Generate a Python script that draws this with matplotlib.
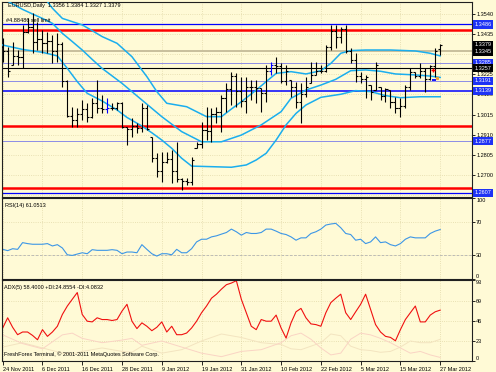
import matplotlib
matplotlib.use("Agg")
import matplotlib.pyplot as plt

plt.rcParams['font.family'] = ['Liberation Sans', 'DejaVu Sans']

# ---- daily bars, 24 Nov 2011 .. 27 Mar 2012 (index 0..88) ----
highs = [1.3413, 1.3369, 1.3396, 1.3352, 1.3480, 1.3517, 1.3543, 1.3496, 1.3456, 1.3448,
         1.3430, 1.3439, 1.3396, 1.3195, 1.3056, 1.3048, 1.3091, 1.3074, 1.3100, 1.3195,
         1.3117, 1.3100, 1.3074, 1.3082, 1.3082, 1.2952, 1.2995, 1.2969, 1.3074, 1.3065,
         1.2900, 1.2813, 1.2821, 1.2821, 1.2830, 1.2873, 1.2682, 1.2682, 1.2795, 1.2873,
         1.2978, 1.3056, 1.3048, 1.3056, 1.3117, 1.3178, 1.3239, 1.3230, 1.3213, 1.3213,
         1.3195, 1.3195, 1.3152, 1.3274, 1.3291, 1.3317, 1.3282, 1.3274, 1.3195, 1.3187,
         1.3178, 1.3213, 1.3291, 1.3291, 1.3274, 1.3378, 1.3483, 1.3483, 1.3474, 1.3483,
         1.3361, 1.3335, 1.3239, 1.3222, 1.3169, 1.3291, 1.3161, 1.3152, 1.3143, 1.3108,
         1.3100, 1.3169, 1.3256, 1.3239, 1.3282, 1.3256, 1.3274, 1.3361, 1.3384]
lows = [1.3291, 1.3209, 1.3274, 1.3274, 1.3256, 1.3439, 1.3335, 1.3352, 1.3335, 1.3335,
        1.3282, 1.3291, 1.3161, 1.3004, 1.2952, 1.2952, 1.2987, 1.2978, 1.2995, 1.3021,
        1.3021, 1.3021, 1.3039, 1.3039, 1.2943, 1.2856, 1.2900, 1.2917, 1.2926, 1.2934,
        1.2769, 1.2691, 1.2665, 1.2760, 1.2656, 1.2665, 1.2621, 1.2647, 1.2647, 1.2839,
        1.2839, 1.2882, 1.2873, 1.2969, 1.2926, 1.3030, 1.3065, 1.3056, 1.3056, 1.3021,
        1.3091, 1.3074, 1.3030, 1.3082, 1.3222, 1.3230, 1.3178, 1.3169, 1.3108, 1.3048,
        1.2969, 1.3108, 1.3178, 1.3222, 1.3230, 1.3239, 1.3352, 1.3361, 1.3387, 1.3335,
        1.3282, 1.3187, 1.3178, 1.3100, 1.3091, 1.3143, 1.3091, 1.3082, 1.3048, 1.3021,
        1.3000, 1.3048, 1.3143, 1.3204, 1.3204, 1.3135, 1.3196, 1.3213, 1.3327]
closes = [1.3345, 1.3240, 1.3320, 1.3315, 1.3445, 1.3470, 1.3395, 1.3410, 1.3390, 1.3400,
          1.3345, 1.3385, 1.3190, 1.3010, 1.2985, 1.3020, 1.3045, 1.3000, 1.3075, 1.3050,
          1.3045, 1.3048, 1.3050, 1.3075, 1.2950, 1.2940, 1.2955, 1.2945, 1.3050, 1.2940,
          1.2790, 1.2720, 1.2765, 1.2785, 1.2720, 1.2680, 1.2670, 1.2665, 1.2780, 1.2860,
          1.2935, 1.2930, 1.3020, 1.3030, 1.3100, 1.3150, 1.3215, 1.3140, 1.3085, 1.3160,
          1.3160, 1.3155, 1.3130, 1.3240, 1.3275, 1.3270, 1.3190, 1.3245, 1.3160, 1.3080,
          1.3120, 1.3160, 1.3220, 1.3240, 1.3240, 1.3370, 1.3450, 1.3420, 1.3460, 1.3345,
          1.3300, 1.3215, 1.3200, 1.3210, 1.3135, 1.3275, 1.3110, 1.3150, 1.3080, 1.3050,
          1.3060, 1.3160, 1.3235, 1.3215, 1.3240, 1.3200, 1.3270, 1.3345, 1.3379]
first_open = 1.3370
last_open = 1.3356
blue_bars = [21, 54]

# ---- bands (read at selected bars) ----
upper_idx = [8, 10, 12, 14, 16, 18, 20, 23, 26, 29, 31, 33, 37, 41, 44, 46, 48, 51, 53, 55,
             58, 61, 64, 66, 68, 70, 73, 78, 83, 86, 88]
upper_val = [1.3639, 1.3570, 1.3517, 1.3500, 1.3483, 1.3453, 1.3422, 1.3387, 1.3317, 1.3213,
             1.3135, 1.3074, 1.3056, 1.3004, 1.3004, 1.3044, 1.3082, 1.3143, 1.3187, 1.3230,
             1.3239, 1.3227, 1.3244, 1.3282, 1.3335, 1.3349, 1.3352, 1.3352, 1.3347, 1.3335, 1.3321]
mid_idx = [0, 2, 4, 6, 8, 10, 12, 14, 16, 18, 20, 24, 28, 32, 36, 40, 44, 48, 52, 56,
           58, 61, 64, 67, 70, 73, 76, 79, 83, 86, 88]
mid_val = [1.3622, 1.3592, 1.3564, 1.3540, 1.3517, 1.3491, 1.3439, 1.3396, 1.3352, 1.3303,
           1.3256, 1.3178, 1.3091, 1.3004, 1.2926, 1.2873, 1.2873, 1.2908, 1.2961, 1.3030,
           1.3100, 1.3143, 1.3169, 1.3199, 1.3244, 1.3248, 1.3241, 1.3227, 1.3222, 1.3216, 1.3209]
lower_idx = [0, 4, 8, 11, 13, 15, 17, 20, 23, 25, 28, 30, 32, 34, 36, 38, 42, 46, 49, 51,
             53, 55, 57, 59, 61, 64, 68, 71, 74, 77, 80, 84, 88]
lower_val = [1.3378, 1.3355, 1.3340, 1.3321, 1.3256, 1.3187, 1.3126, 1.3086, 1.3039, 1.3000,
             1.2955, 1.2920, 1.2882, 1.2839, 1.2787, 1.2746, 1.2743, 1.2740, 1.2752, 1.2778,
             1.2813, 1.2882, 1.2961, 1.3021, 1.3065, 1.3105, 1.3121, 1.3140, 1.3135, 1.3114,
             1.3103, 1.3108, 1.3108]

# ---- horizontal levels drawn on the chart ----
level_prices = [1.3486, 1.3458, 1.3345, 1.3285, 1.3257, 1.3191, 1.3139, 1.2953, 1.2877, 1.2630, 1.2607]
level_colors = ['#0000FF', '#FF0000', '#C8BF9C', '#8C8CE6', '#000000', '#8C8CE6', '#0000FF',
                '#FF0000', '#8C8CE6', '#FF0000', '#0000FF']
level_widths = [0.9, 1.8, 1.4, 0.7, 0.8, 0.7, 1.1, 1.8, 0.7, 1.8, 0.9]
box_prices = [1.3486, 1.3379, 1.3345, 1.3285, 1.3257, 1.3191, 1.3139, 1.2877, 1.2607]
box_colors = ['#1E32F5', 'black', 'black', '#1E32F5', 'black', '#1E32F5', '#1E32F5', '#1E32F5', '#1E32F5']
price_ticks = [1.3540, 1.3435, 1.3330, 1.3225, 1.3120, 1.3015, 1.2910, 1.2805, 1.2700, 1.2595]
hidden_ticks = [1.3330, 1.2595]   # covered by the price boxes

# trade markers near the last bars
buy_mark = (86.6, 1.3248)
sell_mark = (86.8, 1.3195)
tp_mark = (87.3, 1.3207)

# ---- RSI(14) ----
rsi = [36.6, 35.0, 37.4, 36.6, 44.9, 43.7, 42.9, 42.9, 42.9, 43.7, 40.8, 42.4, 38.3, 29.9, 29.1,
       30.8, 32.4, 31.2, 36.2, 35.4, 35.4, 35.4, 36.2, 35.4, 31.2, 33.3, 33.3, 32.4, 42.4, 36.6,
       31.2, 28.3, 31.2, 31.2, 29.9, 36.6, 32.4, 32.4, 37.4, 45.8, 49.1, 49.1, 52.0, 53.3, 55.4,
       57.4, 61.6, 58.3, 54.1, 57.4, 56.2, 56.2, 57.4, 61.6, 61.6, 59.1, 56.2, 54.9, 52.0, 47.9,
       50.8, 50.8, 56.2, 58.3, 61.6, 66.6, 67.9, 68.7, 63.3, 56.2, 54.9, 47.9, 49.1, 43.7, 45.8,
       52.0, 44.9, 45.8, 42.4, 40.8, 43.7, 49.1, 52.0, 50.8, 50.8, 50.8, 56.2, 59.1, 61.05]

# ---- ADX(5) ----
adx = [37.9, 49.6, 38.7, 30.2, 33.3, 33.3, 29.4, 24.4, 36.0, 28.3, 33.3, 39.9, 53.4, 63.1, 70.9,
       78.6, 53.4, 45.7, 44.9, 49.6, 47.6, 47.6, 46.5, 47.6, 57.3, 65.1, 45.7, 37.2, 43.8, 39.9,
       34.8, 38.7, 44.9, 33.3, 39.9, 30.2, 30.2, 32.1, 37.9, 45.7, 55.4, 63.1, 72.1, 76.7, 82.5,
       87.6, 89.5, 92.2, 70.9, 55.4, 39.9, 36.0, 47.6, 45.7, 45.7, 52.7, 37.9, 26.3, 43.8, 56.5,
       60.4, 49.6, 42.6, 41.8, 39.9, 55.4, 67.0, 72.1, 76.7, 55.4, 47.6, 56.5, 65.1, 76.7, 59.3,
       41.8, 33.3, 28.3, 27.1, 23.2, 36.0, 47.6, 55.4, 63.1, 44.9, 44.9, 52.7, 56.5, 58.4]
di_idx = [0, 4, 8, 12, 14, 16, 20, 24, 26, 28, 32, 36, 40, 44, 48, 52, 56, 58, 60, 62, 64, 66,
          68, 70, 72, 74, 76, 78, 80, 82, 84, 86, 88]
di_minus = [30, 20, 14, 30, 32, 26, 21, 24, 26, 18, 23, 16, 9, 5, 11, 13, 21, 29, 32, 25, 15, 7,
            9, 25, 32, 30, 26, 21, 15, 9, 11, 7, 4.1]
di_plus = [16, 21, 15, 9, 8, 11, 15, 11, 10, 17, 9, 13, 23, 31, 27, 21, 19, 14, 13, 17, 21, 31,
           29, 17, 13, 12, 10, 11, 16, 23, 21, 21, 24.9]

date_idx = [0, 8, 16, 24, 32, 40, 48, 56, 64, 72, 80, 88]
date_labels = ['24 Nov 2011', '6 Dec 2011', '16 Dec 2011', '28 Dec 2011', '9 Jan 2012', '19 Jan 2012',
               '31 Jan 2012', '10 Feb 2012', '22 Feb 2012', '5 Mar 2012', '15 Mar 2012', '27 Mar 2012']

BG = '#FFFAD6'
GRID = '#E2D8A8'
FS = 4.0
W, H = 496.0, 372.0

fig = plt.figure(figsize=(4.96, 3.72), dpi=100, facecolor=BG)
ax = fig.add_axes([2 / W, 1 - 197 / H, 470 / W, 195 / H], facecolor=BG)
rax = fig.add_axes([2 / W, 1 - 279 / H, 470 / W, 81 / H], facecolor=BG)
dax = fig.add_axes([2 / W, 1 - 361 / H, 470 / W, 81 / H], facecolor=BG)

n = len(closes)
idx = list(range(n))
opens = [first_open] + [min(max(closes[i - 1], lows[i]), highs[i]) for i in range(1, n)]
opens[-1] = last_open
bar_cols = ['#0000FF' if i in blue_bars else 'black' for i in idx]

for a in (ax, rax, dax):
    a.set_xlim(-0.14, 94.4)
    a.set_xticks(date_idx)
    a.grid(True, linestyle=':', color=GRID, linewidth=0.6)
    a.yaxis.tick_right()
    a.tick_params(axis='y', labelsize=FS, length=2, width=0.6, pad=1)
    for s in a.spines.values():
        s.set_linewidth(0.8)
        s.set_color('#202020')
for a in (ax, rax):
    a.tick_params(axis='x', length=0, labelbottom=False)

# ---- main price panel ----
ax.set_ylim(1.25847, 1.36026)
ax.set_yticks(price_ticks)
ax.set_yticklabels(['' if p in hidden_ticks else f'{p:.4f}' for p in price_ticks])

for p, c, lw in zip(level_prices, level_colors, level_widths):
    ax.axhline(p, color=c, lw=lw, zorder=2)

ax.plot(upper_idx, upper_val, color='#1AAEEE', lw=1.1, zorder=3)
ax.plot(mid_idx, mid_val, color='#1AAEEE', lw=1.1, zorder=3)
ax.plot(lower_idx, lower_val, color='#1AAEEE', lw=1.1, zorder=3)

ax.vlines(idx, lows, highs, colors=bar_cols, lw=0.8, zorder=4)
ax.hlines(opens, [i - 0.42 for i in idx], idx, colors=bar_cols, lw=0.8, zorder=4)
ax.hlines(closes, idx, [i + 0.42 for i in idx], colors=bar_cols, lw=0.8, zorder=4)

ax.plot(*buy_mark, marker='+', color='red', ms=3.5, mew=1.0, zorder=5)
ax.plot(*sell_mark, marker='_', color='#0000FF', ms=3.5, mew=1.3, zorder=5)
ax.plot(*tp_mark, marker='s', color='#F0A030', ms=1.3, zorder=5)

for p, c in zip(box_prices, box_colors):
    ax.text(1.0 + 2.5 / 470, p, f'{p:.4f}', transform=ax.get_yaxis_transform(), fontsize=FS,
            color='white', va='center', ha='left', clip_on=False, zorder=10,
            bbox=dict(boxstyle='square,pad=0.3', fc=c, ec='none'))

ax.text(6 / 470, 1 - 4 / 195, 'EURUSD,Daily  1.3356 1.3384 1.3327 1.3379', transform=ax.transAxes,
        fontsize=FS, va='center', ha='left')
ax.text(4 / 470, 1 - 18.5 / 195, '#4.88486 sell limit', transform=ax.transAxes,
        fontsize=FS, va='center', ha='left')

# ---- RSI panel ----
rax.set_ylim(0, 100)
rax.set_yticks([100, 70, 30, 0])
rax.set_yticklabels(['100', '70', '30', '0'])
rlab = rax.get_yticklabels()
rlab[0].set_va('top')
rlab[3].set_va('bottom')
rax.axhline(30, color='#B4B4B4', lw=0.6, ls=(0, (3, 2)))
rax.plot(idx, rsi, color='#3C96E6', lw=0.8)
rax.text(3 / 470, 1 - 7 / 81, 'RSI(14) 61.0513', transform=rax.transAxes, fontsize=FS,
         va='center', ha='left')

# ---- ADX panel ----
dax.set_ylim(0, 93)
dax.set_yticks([93, 69, 46, 23, 0])
dax.set_yticklabels(['93', '69', '46', '23', '0'])
dlab = dax.get_yticklabels()
dlab[0].set_va('top')
dlab[4].set_va('bottom')
dax.plot(di_idx, di_plus, color='#F3E4C0', lw=0.7)
dax.plot(di_idx, di_minus, color='#FAD4C4', lw=0.7)
dax.plot(idx, adx, color='#F01010', lw=0.8)
dax.text(2 / 470, 1 - 7 / 81, 'ADX(5) 58.4000 +DI:24.8554 -DI:4.0832', transform=dax.transAxes,
         fontsize=FS, va='center', ha='left')
dax.text(2 / 470, 1 - 74 / 81, 'FreshForex Terminal, \u00a9 2001-2011 MetaQuotes Software Corp.',
         transform=dax.transAxes, fontsize=FS, va='center', ha='left')

dax.set_xticklabels(date_labels, ha='left')
dax.tick_params(axis='x', labelsize=FS, length=3, width=0.6, pad=1)

fig.savefig('out.png', dpi=100, facecolor=BG)
